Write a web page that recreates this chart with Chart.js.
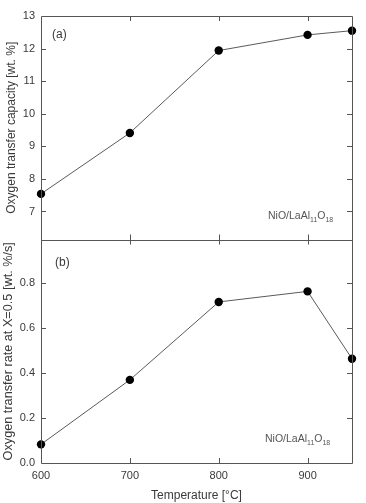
<!DOCTYPE html>
<html>
<head>
<meta charset="utf-8">
<script src="https://cdn.jsdelivr.net/npm/chart.js@4/dist/chart.umd.min.js"></script>
<style>
  html, body { margin: 0; padding: 0; background: #fff; }
  #wrap { position: relative; width: 366px; height: 503px; }
</style>
</head>
<body>
<div id="wrap"><canvas id="chart"></canvas></div>
<script>
// 溫度（x）與兩組量測值
var temps        = [600, 700, 800, 900, 950];
var capacity     = [7.54, 9.41, 11.94, 12.42, 12.55];   // (a) wt. %
var rate         = [0.083, 0.37, 0.717, 0.764, 0.464];  // (b) wt. %/s

var tempTicks     = [600, 700, 800, 900];
var capacityTicks = [7, 8, 9, 10, 11, 12, 13];
var rateTicks     = [0, 0.2, 0.4, 0.6, 0.8];

var FONT = '"Liberation Sans", Arial, Helvetica, sans-serif';
var TXT  = '#3a3a3a';
var FRAME = '#555';

function toPoints(xs, ys) {
  return xs.map(function (x, i) { return { x: x, y: ys[i] }; });
}

function fixTicks(arr) {
  return function (scale) {
    scale.ticks = arr.map(function (v) { return { value: v }; });
  };
}

/* --------------------------------------------------
   邊框、內向刻度與面板標註
   -------------------------------------------------- */
var framePlugin = {
  id: 'frame',
  afterDraw: function (chart) {
    var ctx = chart.ctx;
    var ca  = chart.chartArea;
    var sx  = chart.scales.x;
    var ya  = chart.scales.yA;
    var yb  = chart.scales.yB;
    var mid = ya.bottom;
    var T   = 5;

    ctx.save();
    ctx.strokeStyle = FRAME;
    ctx.lineWidth = 1;
    ctx.beginPath();
    ctx.rect(Math.round(ca.left) + 0.5, Math.round(ca.top) + 0.5,
             Math.round(ca.right - ca.left), Math.round(ca.bottom - ca.top));
    ctx.moveTo(ca.left, Math.round(mid) + 0.5);
    ctx.lineTo(ca.right, Math.round(mid) + 0.5);

    // x 刻度：上緣、分隔線兩側、下緣
    tempTicks.forEach(function (v) {
      var px = Math.round(sx.getPixelForValue(v)) + 0.5;
      if (px <= ca.left + 1) return;
      ctx.moveTo(px, ca.top);        ctx.lineTo(px, ca.top + T);
      ctx.moveTo(px, mid - T);       ctx.lineTo(px, mid + T);
      ctx.moveTo(px, ca.bottom);     ctx.lineTo(px, ca.bottom - T);
    });

    // y 刻度：左右兩側向內
    [[ya, capacityTicks], [yb, rateTicks]].forEach(function (pair) {
      pair[1].forEach(function (v) {
        var py = Math.round(pair[0].getPixelForValue(v)) + 0.5;
        if (py <= ca.top + 1 || py >= ca.bottom - 1) return;
        ctx.moveTo(ca.left, py);  ctx.lineTo(ca.left + T, py);
        ctx.moveTo(ca.right, py); ctx.lineTo(ca.right - T, py);
      });
    });
    ctx.stroke();

    // 面板代號
    ctx.fillStyle = TXT;
    ctx.font = '12px ' + FONT;
    ctx.textBaseline = 'middle';
    ctx.textAlign = 'left';
    ctx.fillText('(a)', ca.left + 11, ya.top + 19);
    ctx.fillText('(b)', ca.left + 14, yb.top + 23);

    // 樣品名稱（含下標）
    function sample(x, base) {
      var parts = [['NiO/LaAl', 0], ['11', 1], ['O', 0], ['18', 1]];
      ctx.textBaseline = 'alphabetic';
      parts.forEach(function (p) {
        ctx.font = (p[1] ? '7px ' : '10.5px ') + FONT;
        ctx.fillText(p[0], x, base + (p[1] ? 3 : 0));
        x += ctx.measureText(p[0]).width;
      });
    }
    ctx.fillStyle = '#555';
    sample(268, ya.bottom - 21);
    sample(265, yb.bottom - 21);
    ctx.restore();
  }
};

var noGrid = { display: false, drawTicks: false, tickLength: 0 };

new Chart(document.getElementById('chart'), {
  type: 'line',
  data: {
    datasets: [
      {
        data: toPoints(temps, capacity),
        yAxisID: 'yA',
        borderColor: '#5a5a5a',
        borderWidth: 1,
        pointRadius: 4.2,
        pointBackgroundColor: '#000',
        pointBorderColor: '#000',
        pointBorderWidth: 0,
        tension: 0,
      },
      {
        data: toPoints(temps, rate),
        yAxisID: 'yB',
        borderColor: '#5a5a5a',
        borderWidth: 1,
        pointRadius: 4.2,
        pointBackgroundColor: '#000',
        pointBorderColor: '#000',
        pointBorderWidth: 0,
        tension: 0,
      },
    ],
  },
  options: {
    responsive: true,
    maintainAspectRatio: false,
    animation: false,
    clip: false,
    layout: { padding: { top: 16, right: 14, left: 0, bottom: 0 } },
    plugins: { legend: { display: false }, tooltip: { enabled: false } },
    scales: {
      x: {
        type: 'linear',
        min: 600,
        max: 950,
        afterBuildTicks: fixTicks(tempTicks),
        afterFit: function (s) { s.height = 40; },
        grid: noGrid,
        border: { display: false },
        ticks: { color: TXT, font: { family: FONT, size: 11 }, padding: 6 },
        title: {
          display: true,
          text: 'Temperature [\u00B0C]',
          color: TXT,
          font: { family: FONT, size: 12 },
          padding: { top: 2, bottom: 0 },
        },
      },
      yB: {
        type: 'linear',
        position: 'left',
        stack: 'panels',
        stackWeight: 1,
        min: 0,
        max: 0.995,
        afterBuildTicks: fixTicks(rateTicks),
        afterFit: function (s) { s.width = 41; },
        grid: noGrid,
        border: { display: false },
        ticks: {
          color: TXT,
          font: { family: FONT, size: 11 },
          padding: 6,
          callback: function (v) { return v.toFixed(1); },
        },
        title: {
          display: true,
          text: 'Oxygen transfer rate at X=0.5 [wt. %/s]',
          color: TXT,
          font: { family: FONT, size: 12.7 },
          padding: { top: 1, bottom: 2 },
        },
      },
      yA: {
        type: 'linear',
        position: 'left',
        stack: 'panels',
        stackWeight: 1,
        min: 6.14,
        max: 13,
        afterBuildTicks: fixTicks(capacityTicks),
        afterFit: function (s) { s.width = 41; },
        grid: noGrid,
        border: { display: false },
        ticks: { color: TXT, font: { family: FONT, size: 11 }, padding: 6 },
        title: {
          display: true,
          text: 'Oxygen transfer capacity [wt. %]',
          color: TXT,
          font: { family: FONT, size: 12 },
          padding: { top: 4, bottom: 2 },
        },
      },
    },
  },
  plugins: [framePlugin],
});
</script>
</body>
</html>
